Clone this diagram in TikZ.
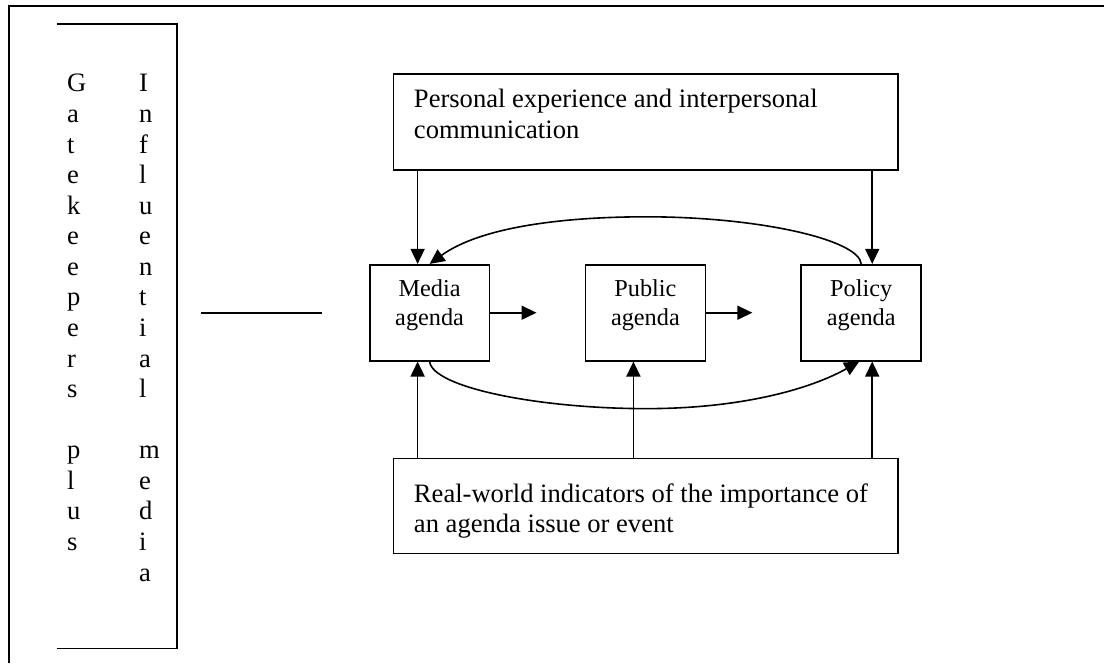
\documentclass[tikz,border=0pt]{standalone}
\usepackage{fontspec}
\setmainfont{Liberation Serif}
\usetikzlibrary{arrows.meta}

% stacked lines whose reference point is the baseline of the first line
\newcommand\linesL[2]{\vtop{\baselineskip=#1\relax\halign{##\hfil\cr#2\crcr}}}
\newcommand\linesC[2]{\vtop{\baselineskip=#1\relax\halign{\hfil##\hfil\cr#2\crcr}}}

\tikzset{
  bigtext/.style={font=\fontsize{26.6pt}{30.6pt}\selectfont},
  smalltext/.style={font=\fontsize{24.3pt}{28.8pt}\selectfont},
  box/.style={draw, line width=1.7pt, inner ysep=0pt},
  agendabox/.style={box, smalltext, minimum width=120pt, inner xsep=0pt,
                    text height=32pt, text depth=64pt},
  wide/.style={box, bigtext, anchor=north west, inner xsep=20.5pt},
  arr/.style={line width=1.6pt, -{Triangle[length=15pt,width=14pt]}},
  plain/.style={line width=1.7pt},
  frame/.style={line width=2pt}
}

\begin{document}
\begin{tikzpicture}[x=1pt,y=-1pt]
  % page
  \fill[white] (0,0) rectangle (1105,664);

  % outer frame: top and left edges
  \coordinate (f1) at (9,664);
  \coordinate (f2) at (9,6);
  \coordinate (f3) at (1105,6);
  \draw[frame] (f1) -- (f2) -- (f3);

  % bracket around the vertical labels
  \coordinate (g1) at (57,24);
  \coordinate (g2) at (177,24);
  \coordinate (g3) at (177,649);
  \coordinate (g4) at (57,649);
  \draw[plain] (g1) -- (g2) -- (g3) -- (g4);

  % vertical labels
  \node[bigtext, inner sep=0pt, anchor=base west] (gate) at (67,92)
    {\linesL{30.6pt}{G\cr a\cr t\cr e\cr k\cr e\cr e\cr p\cr e\cr r\cr s\cr \cr p\cr l\cr u\cr s}};
  \node[bigtext, inner sep=0pt, anchor=base west] (infl) at (139,92)
    {\linesL{30.6pt}{I\cr n\cr f\cr l\cr u\cr e\cr n\cr t\cr i\cr a\cr l\cr \cr m\cr e\cr d\cr i\cr a}};

  % short rule between the labels and the model
  \coordinate (h1) at (201,313);
  \coordinate (h2) at (322,313);
  \draw[plain] (h1) -- (h2);

  % top and bottom boxes
  \node[wide, text height=34pt, text depth=62pt] (pers) at (393,73)
    {\makebox[464pt][l]{\linesL{31pt}{Personal experience and interpersonal\cr communication}}};
  \node[wide, text height=44pt, text depth=51pt] (real) at (393,458)
    {\makebox[464pt][l]{\linesL{30.5pt}{Real-world indicators of the importance of\cr an agenda issue or event}}};

  % agenda boxes
  \node[agendabox] (media)  at (430,313) {\linesC{28.8pt}{Media\cr agenda}};
  \node[agendabox] (public) at (646,313) {\linesC{28.8pt}{Public\cr agenda}};
  \node[agendabox] (policy) at (862,313) {\linesC{28.8pt}{Policy\cr agenda}};

  % horizontal arrows
  \coordinate (m2) at (537,313);
  \coordinate (p2) at (753,313);
  \draw[arr] (media.east) -- (m2);
  \draw[arr] (public.east) -- (p2);

  % arrows from the top box
  \draw[arr] ([xshift=-12pt]media.north |- pers.south) -- ([xshift=-12pt]media.north);
  \draw[arr] ([xshift=11pt]policy.north |- pers.south) -- ([xshift=11pt]policy.north);

  % arrows from the bottom box
  \draw[arr] ([xshift=-12pt]media.south |- real.north) -- ([xshift=-12pt]media.south);
  \draw[arr] ([xshift=-12pt]public.south |- real.north) -- ([xshift=-12pt]public.south);
  \draw[arr] ([xshift=11pt]policy.south |- real.north) -- ([xshift=11pt]policy.south);

  % feedback arcs
  \coordinate (ctop) at (647,217);
  \coordinate (cbot) at (647,409);
  \draw[arr] (policy.north) .. controls (860,240) and (760,217) .. (ctop)
                            .. controls (560,217) and (480,228) .. (media.north);
  \draw[arr] (media.south) .. controls (433,388) and (540,409) .. (cbot)
                           .. controls (740,409) and (810,390) .. ([xshift=-2pt]policy.south);
\end{tikzpicture}
\end{document}
